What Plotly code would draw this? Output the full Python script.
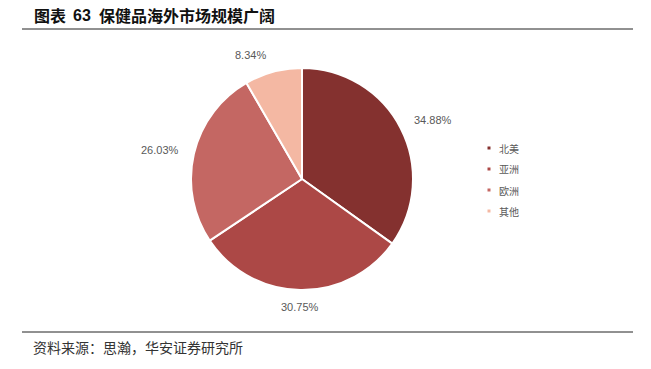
import math
import plotly.graph_objects as go

# Overseas health-supplement market share by region
regions = ["北美", "亚洲", "欧洲", "其他"]
shares = [34.88, 30.75, 26.03, 8.34]
colors = ["#84312F", "#AC4846", "#C46763", "#F4B8A3"]

W, H = 651, 369
cx, cy, r = 302, 179, 111  # pie centre / radius in pixels

fig = go.Figure()
fig.add_trace(go.Pie(
    labels=regions, values=shares, sort=False, direction="clockwise", rotation=0,
    marker=dict(colors=colors, line=dict(color="white", width=2)),
    textinfo="none", hoverinfo="label+percent", showlegend=False,
    domain=dict(x=[(cx - r) / W, (cx + r) / W], y=[1 - (cy + r) / H, 1 - (cy - r) / H]),
))

annotations = []
# percentage labels placed just outside each slice at its mid-angle
total = sum(shares)
acc = 0.0
for v in shares:
    mid = (acc + v / 2) / total * 2 * math.pi
    acc += v
    s, c = math.sin(mid), math.cos(mid)
    lr = r + 11
    px = cx + lr * s
    py = cy - lr * c - 6 * c
    if abs(s) < 0.1:
        xa = "center"
    elif s > 0:
        xa, px = "left", px + 2
    else:
        xa, px = "right", px - 2
    annotations.append(dict(
        x=px / W, y=1 - py / H, xref="paper", yref="paper", xanchor=xa, yanchor="middle",
        text=f"{v:.2f}%", showarrow=False,
        font=dict(family="Liberation Sans, Arial", size=11, color="#595959"),
    ))

# legend: small squares and labels
shapes = []
for i, (name, col) in enumerate(zip(regions, colors)):
    ly = 148 + i * 21
    shapes.append(dict(type="rect", xref="paper", yref="paper",
                       x0=487.5 / W, x1=490.5 / W, y0=1 - (ly + 1.5) / H, y1=1 - (ly - 1.5) / H,
                       fillcolor=col, line=dict(width=0)))
    annotations.append(dict(
        x=497 / W, y=1 - ly / H, xref="paper", yref="paper", xanchor="left", yanchor="middle",
        text=name, showarrow=False,
        font=dict(family="Noto Sans CJK SC", size=10, color="#595959"),
    ))

# header and footer rules
shapes.append(dict(type="line", xref="paper", yref="paper", x0=22 / W, x1=633 / W,
                   y0=1 - 29 / H, y1=1 - 29 / H, line=dict(color="#222222", width=1)))
shapes.append(dict(type="line", xref="paper", yref="paper", x0=22 / W, x1=633 / W,
                   y0=1 - 332 / H, y1=1 - 332 / H, line=dict(color="#222222", width=1)))

# title pieces
title_parts = [(32, "<b>图表</b>", "Noto Sans CJK SC", 16),
               (71, "<b>63</b>", "Liberation Sans, Arial", 16),
               (97, "<b>保健品海外市场规模广阔</b>", "Noto Sans CJK SC", 16)]
for x, t, fam, sz in title_parts:
    annotations.append(dict(
        x=x / W, y=1 - 15 / H, xref="paper", yref="paper", xanchor="left", yanchor="middle",
        text=t, showarrow=False, font=dict(family=fam, size=sz, color="#111111"),
    ))

annotations.append(dict(
    x=31 / W, y=1 - 347 / H, xref="paper", yref="paper", xanchor="left", yanchor="middle",
    text="资料来源：思瀚，华安证券研究所", showarrow=False,
    font=dict(family="Noto Sans CJK SC", size=14, color="#333333"),
))

fig.update_layout(
    width=W, height=H, margin=dict(l=0, r=0, t=0, b=0),
    paper_bgcolor="white", plot_bgcolor="white",
    annotations=annotations, shapes=shapes,
)
fig.write_html("out.html")
